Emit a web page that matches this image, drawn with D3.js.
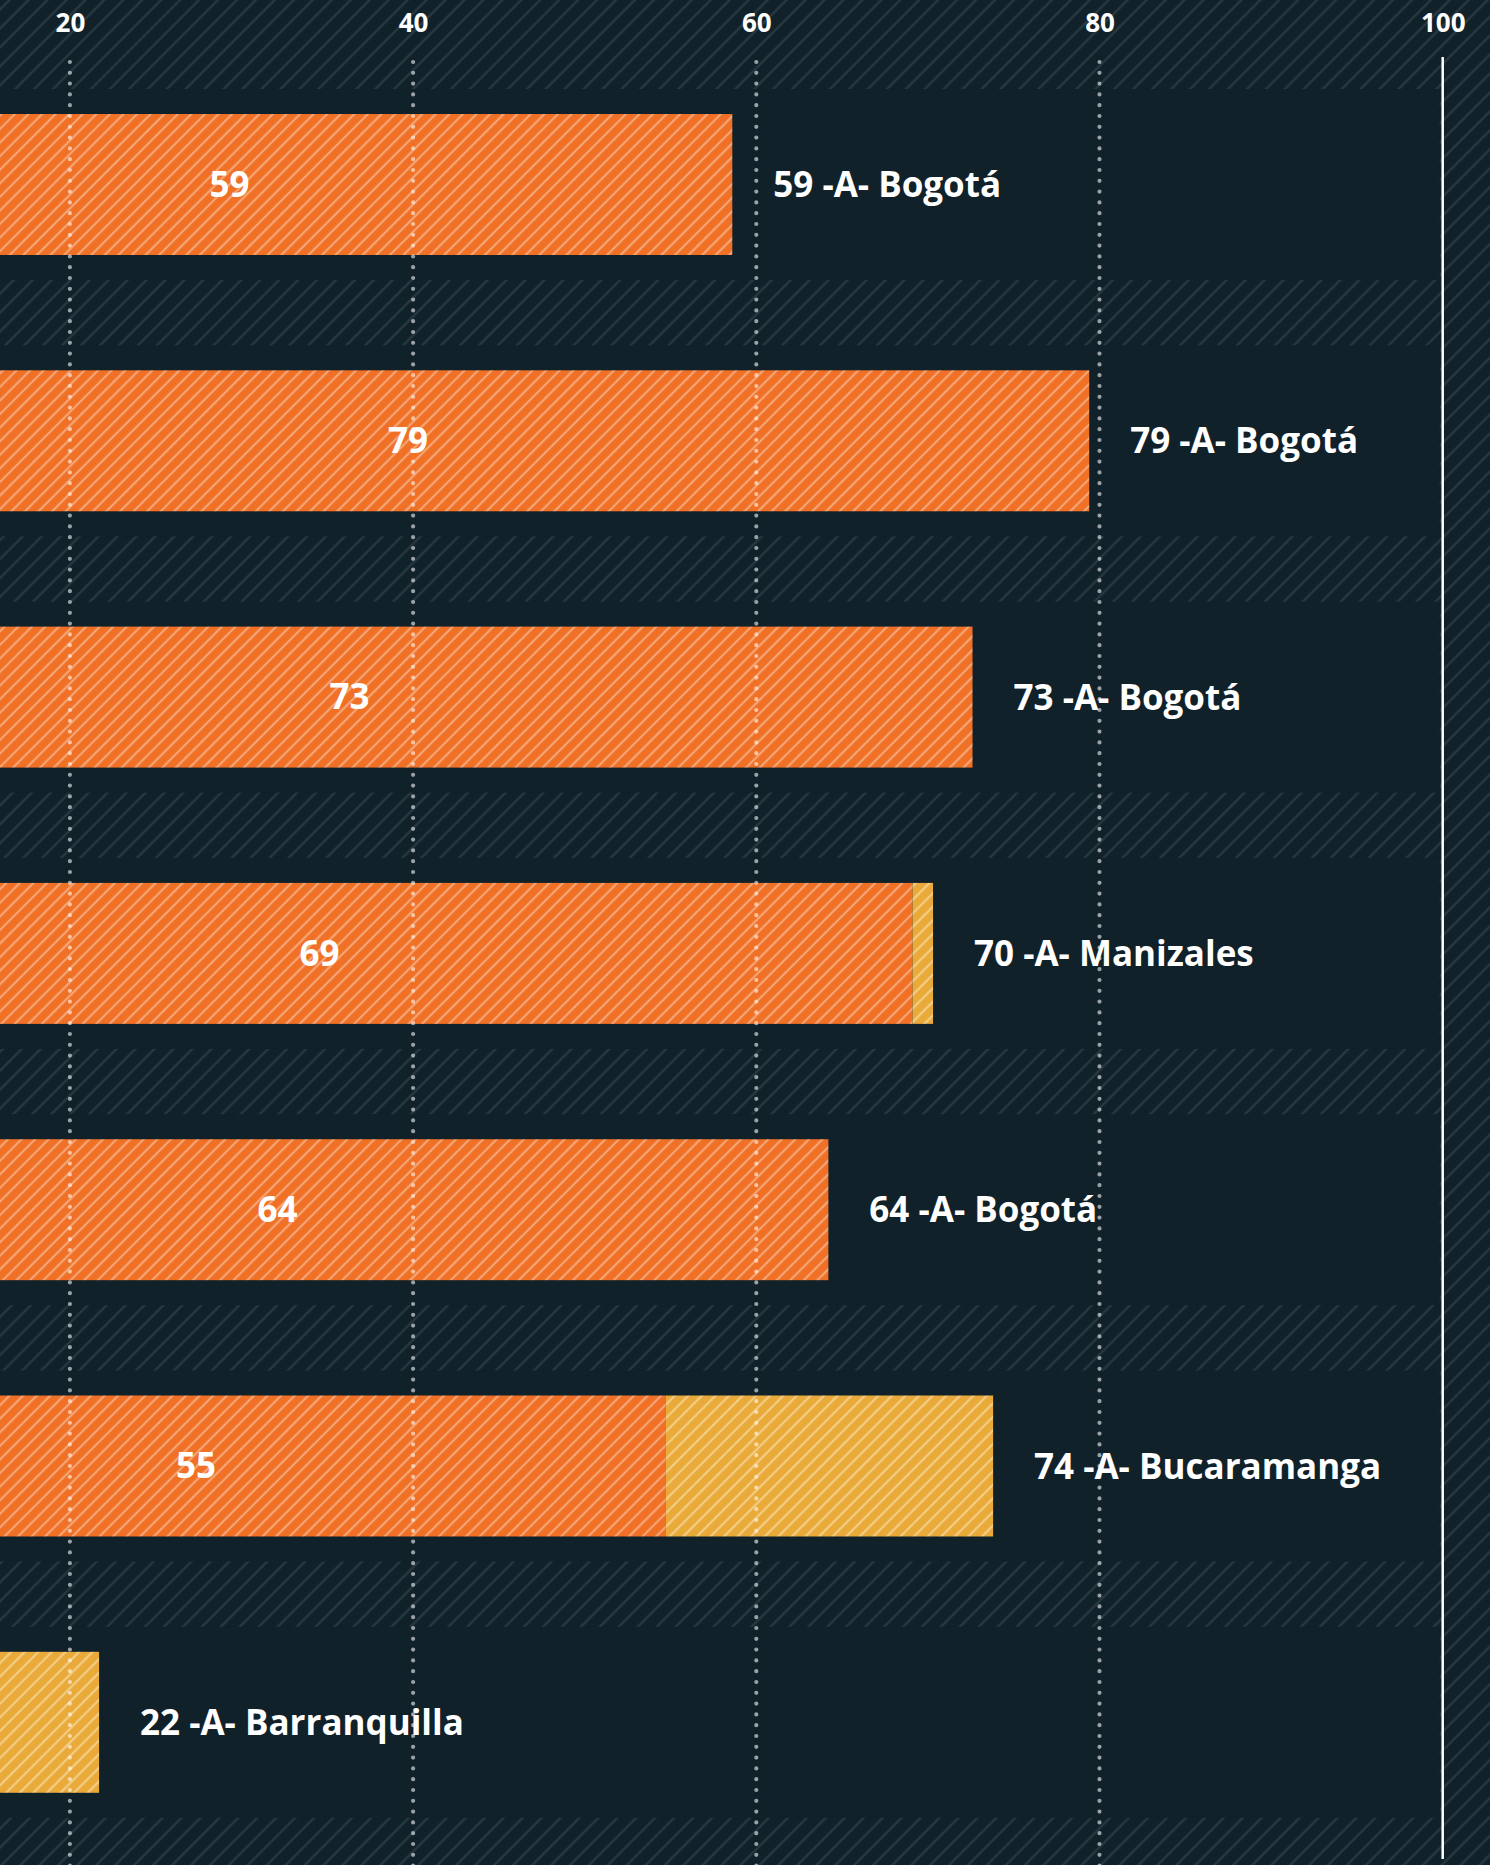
<!DOCTYPE html>
<html>
<head>
<meta charset="utf-8">
<script src="https://cdn.jsdelivr.net/npm/d3@7"></script>
<style>
  html, body { margin: 0; padding: 0; background: #11212a; }
  svg { display: block; }
  text { font-family: "Open Sans", "Noto Sans", sans-serif; font-weight: 700; fill: #ffffff; }
</style>
</head>
<body>
<svg id="chart" width="1490" height="1865"></svg>
<script>
// Rows, top to bottom
const cities   = ["Bogotá", "Bogotá", "Bogotá", "Manizales", "Bogotá", "Bucaramanga", "Barranquilla"];
const groups   = ["A", "A", "A", "A", "A", "A", "A"];
// Two stacked parts per row (orange first, yellow on top of it)
const primary   = [58.6, 79.4, 72.6, 69.1, 64.2, 54.7, 0];
const secondary = [0, 0, 0, 1.2, 0, 19.1, 21.7];
const tickValues = [20, 40, 60, 80, 100];

const W = 1490, H = 1865;
const svg = d3.select("#chart");

const rows = cities.map((c, i) => ({
  id: i, city: c, group: groups[i], primary: primary[i], secondary: secondary[i]
}));

// The value axis runs from 0 (off the left edge) to 100
const x = d3.scaleLinear().domain([0, 100]).range([-273.3, 1442.7]);

const yRange = [56.35, 1850.45];
const yBar = d3.scaleBand().domain(rows.map(d => d.id)).range(yRange)
  .paddingInner(0.45).paddingOuter(0.225);
const yRow = d3.scaleBand().domain(rows.map(d => d.id)).range(yRange)
  .paddingInner(0.255).paddingOuter(0.1275);

// Hatch patterns
const defs = svg.append("defs");
function hatch(id, size, base, stripe, width) {
  const p = defs.append("pattern")
    .attr("id", id)
    .attr("patternUnits", "userSpaceOnUse")
    .attr("width", size).attr("height", size)
    .attr("patternTransform", "rotate(45)");
  if (base) p.append("rect").attr("width", size).attr("height", size).attr("fill", base);
  p.append("line")
    .attr("x1", size / 2).attr("y1", 0).attr("x2", size / 2).attr("y2", size)
    .attr("stroke", stripe).attr("stroke-width", width);
}
hatch("bgHatch", 13.4, "#11212a", "#283840", 2.4);
hatch("orangeHatch", 9.6, "#f07026", "#f6a676", 2.2);
hatch("yellowHatch", 9.6, "#e9aa3a", "#f3cd84", 2.2);

// Background: hatched everywhere, solid bands behind each row
svg.append("rect").attr("width", W).attr("height", H).attr("fill", "url(#bgHatch)");
svg.append("g").selectAll("rect").data(rows).join("rect")
  .attr("x", 0)
  .attr("width", x(100) - 3)
  .attr("y", d => yRow(d.id))
  .attr("height", yRow.bandwidth())
  .attr("fill", "#11212a");

// Stacked bars
const stack = d3.stack().keys(["primary", "secondary"]);
const series = stack(rows);
const fills = { primary: "url(#orangeHatch)", secondary: "url(#yellowHatch)" };

svg.append("g").selectAll("g").data(series).join("g")
  .attr("fill", s => fills[s.key])
  .selectAll("rect").data(s => s.filter(p => p[1] > p[0])).join("rect")
    .attr("x", p => x(p[0]))
    .attr("width", p => x(p[1]) - x(p[0]))
    .attr("y", p => yBar(p.data.id))
    .attr("height", yBar.bandwidth());

const fmt = d3.format(".0f");

// Value of the orange part, centred on it
svg.append("g").selectAll("text").data(rows.filter(d => d.primary > 0)).join("text")
  .attr("x", d => (x(0) + x(d.primary)) / 2)
  .attr("y", d => yBar(d.id) + yBar.bandwidth() / 2)
  .attr("dy", "0.35em")
  .attr("text-anchor", "middle")
  .attr("font-size", 35)
  .text(d => fmt(d.primary));

// Total and city to the right of each bar
svg.append("g").selectAll("text").data(rows).join("text")
  .attr("x", d => x(d.primary + d.secondary) + 41)
  .attr("y", d => yBar(d.id) + yBar.bandwidth() / 2)
  .attr("dy", "0.36em")
  .attr("font-size", 35)
  .text(d => `${fmt(d.primary + d.secondary)} -${d.group}- ${d.city}`);

// Dotted gridlines, drawn over bars and labels
svg.append("g").selectAll("line").data(tickValues.filter(v => v < 100)).join("line")
  .attr("x1", d => x(d)).attr("x2", d => x(d))
  .attr("y1", 62).attr("y2", H + 10)
  .attr("stroke", "#ffffff")
  .attr("stroke-opacity", 0.58)
  .attr("stroke-width", 4.2)
  .attr("stroke-linecap", "round")
  .attr("stroke-dasharray", "0 10.8");

// Solid line at 100
svg.append("line")
  .attr("x1", x(100)).attr("x2", x(100))
  .attr("y1", 57).attr("y2", 1859)
  .attr("stroke", "#ffffff")
  .attr("stroke-width", 2.5);

// Top axis labels
const axis = d3.axisTop(x).tickValues(tickValues).tickSize(0).tickPadding(0);
const ax = svg.append("g").attr("transform", "translate(0,31.7)").call(axis);
ax.select(".domain").remove();
ax.selectAll("text")
  .attr("font-size", 26)
  .attr("font-family", "\"Open Sans\", \"Noto Sans\", sans-serif")
  .attr("font-weight", 700)
  .attr("fill", "#ffffff");
</script>
</body>
</html>
